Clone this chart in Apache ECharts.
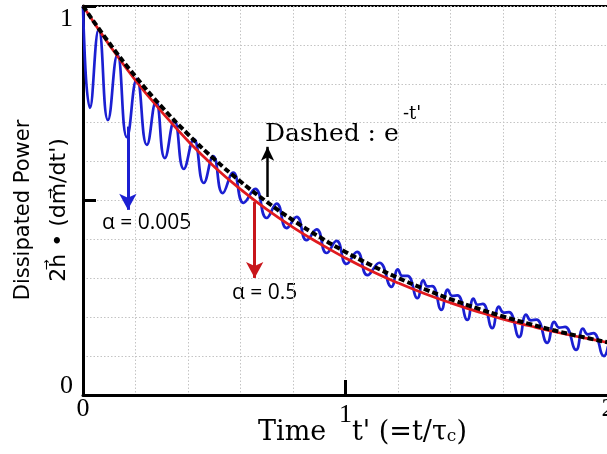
<!DOCTYPE html>
<html><head><meta charset="utf-8">
<script src="https://cdn.jsdelivr.net/npm/echarts/dist/echarts.min.js"></script>
<style>html,body{margin:0;padding:0;background:#fff}#c{width:607px;height:454px}</style>
</head><body><div id="c"></div>
<script>
// Tick labels
const xTickLabels = ['0', '1', '2'];
const yTickLabels = ['0', '1'];

// Dashed black: e^{-t'}
const expT = [0, 0.1, 0.2, 0.3, 0.4, 0.5, 0.6, 0.7, 0.8, 0.9, 1.0, 1.1, 1.2, 1.3, 1.4, 1.5, 1.6, 1.7, 1.8, 1.9, 2.0];
const expV = [1, 0.9048, 0.8187, 0.7408, 0.6703, 0.6065, 0.5488, 0.4966, 0.4493, 0.4066, 0.3679, 0.3329, 0.3012, 0.2725, 0.2466, 0.2231, 0.2019, 0.1827, 0.1653, 0.1496, 0.1353];

// Red: alpha = 0.5
const redT = [0, 0.1, 0.2, 0.3, 0.4, 0.5, 0.6, 0.7, 0.8, 0.9, 1.0, 1.1, 1.2, 1.3, 1.4, 1.5, 1.6, 1.7, 1.8, 1.9, 2.0];
const redV = [1, 0.900, 0.809, 0.728, 0.653, 0.587, 0.529, 0.477, 0.431, 0.390, 0.352, 0.318, 0.288, 0.261, 0.237, 0.215, 0.195, 0.178, 0.162, 0.148, 0.135];

// Blue: alpha = 0.005 (troughs, peaks, humps)
const blueT = [0, 0.0266, 0.060, 0.0951, 0.131, 0.1673, 0.205, 0.2433, 0.278, 0.3118, 0.348, 0.3840, 0.422, 0.4601, 0.496, 0.5323, 0.572, 0.6122, 0.656, 0.6996, 0.738, 0.7757, 0.814, 0.8517, 0.890, 0.9278, 0.966, 1.0038, 1.044, 1.0837, 1.129, 1.1749,
  1.1996, 1.2164, 1.2362, 1.2738,
  1.2966, 1.3121, 1.3303, 1.3650,
  1.3897, 1.4065, 1.4263, 1.4639,
  1.4877, 1.5038, 1.5228, 1.5589,
  1.5846, 1.6020, 1.6226, 1.6616,
  1.6882, 1.7063, 1.7276, 1.7681,
  1.7957, 1.8144, 1.8364, 1.8783,
  1.9049, 1.9230, 1.9443, 1.9848, 2.0];
const blueV = [1.0, 0.738, 0.940, 0.707, 0.875, 0.663, 0.813, 0.643, 0.755, 0.609, 0.705, 0.581, 0.658, 0.545, 0.614, 0.519, 0.572, 0.494, 0.530, 0.455, 0.492, 0.429, 0.458, 0.398, 0.426, 0.365, 0.396, 0.337, 0.368, 0.308, 0.340, 0.278,
  0.323, 0.306, 0.306, 0.249,
  0.295, 0.279, 0.280, 0.219,
  0.271, 0.255, 0.256, 0.193,
  0.248, 0.232, 0.234, 0.172,
  0.227, 0.212, 0.213, 0.149,
  0.207, 0.192, 0.194, 0.134,
  0.188, 0.173, 0.175, 0.116,
  0.171, 0.156, 0.159, 0.100, 0.125];

const BLUE = '#1b1fd2', RED = '#e01a1e';
const pair = (ts, vs) => ts.map((t, i) => [t, vs[i]]);

const chart = echarts.init(document.getElementById('c'), null, {renderer: 'canvas'});
const grid = {left: 83, top: 6, width: 525, height: 389, containLabel: false, outerBoundsMode: 'none',
  show: true, borderColor: '#000', borderWidth: 2};
const dotted = {show: true, lineStyle: {color: '#c4c4c4', width: 1, type: [1.5, 2]}};

chart.setOption({
  animation: false,
  backgroundColor: '#fff',
  grid: grid,
  xAxis: [
    {type: 'value', min: 0, max: 2, interval: 0.2, axisLine: {show: false}, axisTick: {show: false}, axisLabel: {show: false}, splitLine: dotted},
    {type: 'value', min: 0, max: 2, interval: 1, position: 'bottom',
     axisLine: {show: true, onZero: false, lineStyle: {color: '#000', width: 3}},
     axisTick: {show: true, inside: true, length: 15, lineStyle: {color: '#000', width: 3}},
     splitLine: {show: false},
     axisLabel: {margin: 1, color: '#000', fontFamily: 'Liberation Serif', fontSize: 26, showMaxLabel: true,
       formatter: v => v === 1 ? '{m|' + xTickLabels[1] + '}' : xTickLabels[Math.round(v)],
       rich: {m: {fontFamily: 'Liberation Serif', fontSize: 26, color: '#000', padding: [6, 0, 0, 0]}}}}
  ],
  yAxis: [
    {type: 'value', min: 0, max: 1, interval: 0.1, axisLine: {show: false}, axisTick: {show: false}, axisLabel: {show: false}, splitLine: dotted},
    {type: 'value', min: 0, max: 1, interval: 0.5, position: 'left',
     axisLine: {show: true, onZero: false, lineStyle: {color: '#000', width: 3}},
     axisTick: {show: true, inside: true, length: 13, lineStyle: {color: '#000', width: 3}},
     splitLine: {show: false},
     axisLabel: {margin: 10, color: '#000', fontFamily: 'Liberation Serif', fontSize: 26,
       formatter: v => v === 0 ? '{lo|' + yTickLabels[0] + '}' : (v === 1 ? '{hi|' + yTickLabels[1] + '}' : ''),
       rich: {
         lo: {fontFamily: 'Liberation Serif', fontSize: 26, color: '#000', padding: [0, 0, 17, 0]},
         hi: {fontFamily: 'Liberation Serif', fontSize: 26, color: '#000', padding: [27, 0, 0, 0]}
       }}}
  ],
  series: [
    {type: 'line', xAxisIndex: 0, yAxisIndex: 0, data: pair(blueT, blueV), showSymbol: false, smooth: 0.5,
     lineStyle: {color: BLUE, width: 2.7}, z: 2,
     markLine: {silent: true, symbol: ['none', 'arrow'], symbolSize: [13, 16], label: {show: false},
       lineStyle: {color: BLUE, width: 3, type: 'solid'},
       data: [[{coord: [0.171, 0.69]}, {coord: [0.171, 0.476]}]]}},
    {type: 'line', xAxisIndex: 0, yAxisIndex: 0, data: pair(redT, redV), showSymbol: false, smooth: true,
     lineStyle: {color: RED, width: 2.7}, z: 3,
     markLine: {silent: true, symbol: ['none', 'arrow'], symbolSize: [13, 16], label: {show: false},
       lineStyle: {color: '#c8161b', width: 3, type: 'solid'},
       data: [[{coord: [0.654, 0.496]}, {coord: [0.654, 0.301]}]]}},
    {type: 'line', xAxisIndex: 0, yAxisIndex: 0, data: pair(expT, expV), showSymbol: false, smooth: true,
     lineStyle: {color: '#000', width: 4, type: [6, 3]}, z: 4,
     markLine: {silent: true, symbol: ['none', 'arrow'], symbolSize: [10, 14], label: {show: false},
       lineStyle: {color: '#000', width: 2.5, type: 'solid'},
       data: [[{coord: [0.703, 0.509]}, {coord: [0.703, 0.638]}]]}}
  ],
  graphic: [
    {type: 'text', x: 24, y: 210, rotation: Math.PI / 2,
     style: {text: 'Dissipated Power', font: '21px "DejaVu Sans"', fill: '#000', align: 'center', verticalAlign: 'middle'}},
    {type: 'text', x: 59, y: 210, rotation: Math.PI / 2,
     style: {text: '2h\u20D7 \u2022 (dm\u20D7/dt\')', font: '22px "DejaVu Sans"', fill: '#000', align: 'center', verticalAlign: 'middle'}},
    {type: 'text', x: 258, y: 433,
     style: {text: "Time   t' (=t/\u03C4{c|c})", font: '27px "DejaVu Serif"', fill: '#000', align: 'left', verticalAlign: 'middle',
       rich: {c: {font: '17px "DejaVu Serif"', fill: '#000', padding: [8, 0, 0, 0]}}}},
    {type: 'text', x: 265, y: 134,
     style: {text: 'Dashed : e', font: '25px "DejaVu Serif"', fill: '#000', align: 'left', verticalAlign: 'middle'}},
    {type: 'text', x: 403, y: 114,
     style: {text: "-t'", font: '18px "DejaVu Serif"', fill: '#000', align: 'left', verticalAlign: 'middle'}},
    {type: 'text', x: 102, y: 223,
     style: {text: '\u03B1 = 0.005', font: '21px "Open Sans"', fill: '#000', align: 'left', verticalAlign: 'middle'}},
    {type: 'text', x: 232, y: 293,
     style: {text: '\u03B1 = 0.5', font: '21px "Open Sans"', fill: '#000', align: 'left', verticalAlign: 'middle'}}
  ]
});
</script>
</body></html>
